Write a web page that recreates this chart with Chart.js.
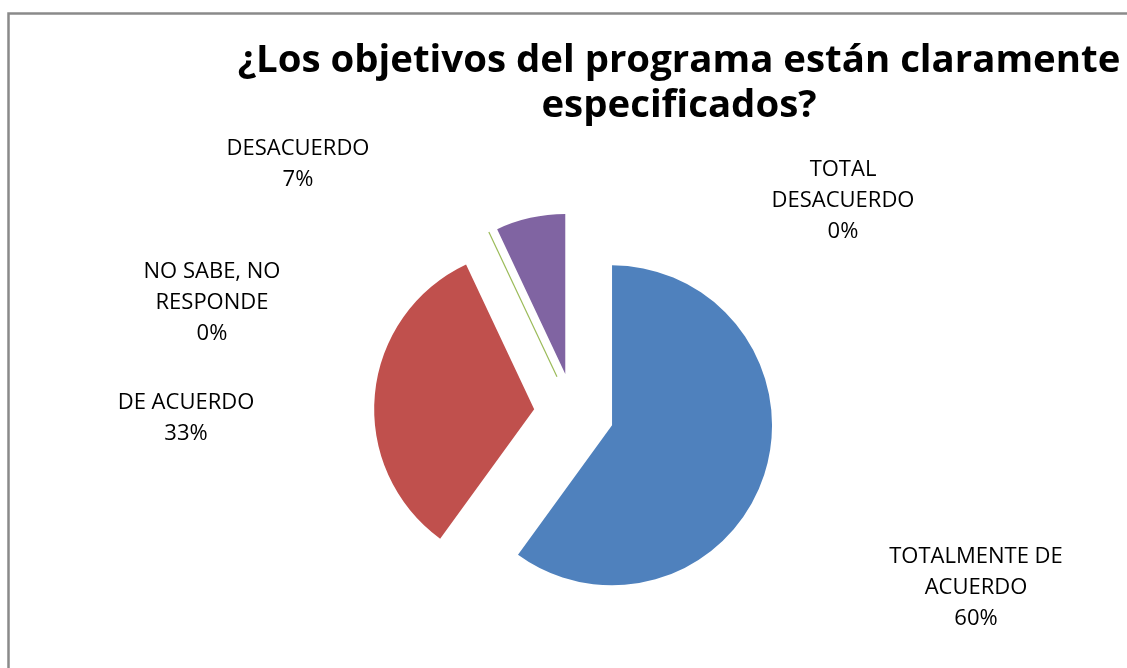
<!DOCTYPE html>
<html>
<head>
<meta charset="utf-8">
<script src="https://cdn.jsdelivr.net/npm/chart.js@4"></script>
<style>
  html, body { margin: 0; padding: 0; background: #ffffff; }
  #wrap { width: 1127px; height: 668px; position: relative; }
</style>
</head>
<body>
<div id="wrap"><canvas id="c" width="1127" height="668"></canvas></div>
<script>
// ---- data ----
const categories = ['TOTALMENTE DE ACUERDO', 'DE ACUERDO', 'NO SABE, NO RESPONDE', 'DESACUERDO', 'TOTAL DESACUERDO'];
const labelLines = [['TOTALMENTE DE', 'ACUERDO'], ['DE ACUERDO'], ['NO SABE, NO', 'RESPONDE'], ['DESACUERDO'], ['TOTAL', 'DESACUERDO']];
const percents = [60, 33, 0, 7, 0];
const sliceColors = ['#4F81BD', '#C0504D', '#9BBB59', '#8064A2', '#4BACC6'];
const titleLines = ['¿Los objetivos del programa están claramente', 'especificados?'];

// ---- layout / style (not data) ----
const EXPLODE = 40;          // px each slice is pulled out from the centre
const RADIUS = 160;
const labelPos = [           // centre x, baseline of first line
  { x: 976, y: 563 },
  { x: 186, y: 409 },
  { x: 212, y: 278 },
  { x: 298, y: 155 },
  { x: 843, y: 176 }
];
const LINE_H = 31;
const FONT = '"Open Sans", "DejaVu Sans", sans-serif';

function fitSize(ctx, weight, text, target) {
  ctx.font = weight + ' 100px ' + FONT;
  return 100 * target / ctx.measureText(text).width;
}

const framePlugin = {
  id: 'frame',
  beforeDraw(chart) {
    const ctx = chart.ctx;
    ctx.save();
    ctx.fillStyle = '#ffffff';
    ctx.fillRect(0, 0, chart.width, chart.height);
    ctx.strokeStyle = '#8a8a8a';
    ctx.lineWidth = 2.5;
    ctx.strokeRect(8.5, 13.5, 1300, 900);
    ctx.restore();
  }
};

// Explode every slice (Excel style): move each arc's centre outward along its mid-angle.
const explodePlugin = {
  id: 'explode',
  beforeDatasetsDraw(chart) {
    const ca = chart.chartArea;
    const cx = (ca.left + ca.right) / 2, cy = (ca.top + ca.bottom) / 2;
    chart.getDatasetMeta(0).data.forEach(arc => {
      const mid = (arc.startAngle + arc.endAngle) / 2;
      arc.x = cx + Math.cos(mid) * EXPLODE;
      arc.y = cy + Math.sin(mid) * EXPLODE;
    });
  }
};

// A 0 % slice is drawn by Excel as a hairline in its colour.
const zeroLinePlugin = {
  id: 'zeroLine',
  afterDatasetsDraw(chart) {
    const ctx = chart.ctx;
    const meta = chart.getDatasetMeta(0);
    meta.data.forEach((arc, i) => {
      if (percents[i] !== 0 || i === percents.length - 1) return;
      const a = arc.startAngle;
      ctx.save();
      ctx.strokeStyle = sliceColors[i];
      ctx.lineWidth = 1.2;
      ctx.beginPath();
      ctx.moveTo(arc.x, arc.y);
      ctx.lineTo(arc.x + Math.cos(a) * arc.outerRadius, arc.y + Math.sin(a) * arc.outerRadius);
      ctx.stroke();
      ctx.restore();
    });
  }
};

const textPlugin = {
  id: 'texts',
  afterDraw(chart) {
    const ctx = chart.ctx;
    ctx.save();
    ctx.fillStyle = '#000000';
    ctx.textAlign = 'center';
    ctx.textBaseline = 'alphabetic';
    // title
    const ts = fitSize(ctx, 'bold', titleLines[0], 883);
    ctx.font = 'bold ' + ts.toFixed(2) + 'px ' + FONT;
    ctx.fillText(titleLines[0], 679, 72);
    ctx.fillText(titleLines[1], 679, 117);
    // labels
    const ls = fitSize(ctx, 'normal', 'DESACUERDO', 143);
    ctx.font = ls.toFixed(2) + 'px ' + FONT;
    categories.forEach((c, i) => {
      const lines = labelLines[i].concat([percents[i] + '%']);
      const p = labelPos[i];
      lines.forEach((t, k) => ctx.fillText(t, p.x, p.y + k * LINE_H));
    });
    ctx.restore();
  }
};

new Chart(document.getElementById('c'), {
  type: 'pie',
  data: {
    labels: categories,
    datasets: [{
      data: percents,
      backgroundColor: sliceColors,
      borderWidth: 0
    }]
  },
  options: {
    responsive: false,
    animation: false,
    events: [],
    radius: RADIUS,
    layout: { padding: { left: 21, right: 0, top: 158, bottom: 0 } },
    plugins: {
      legend: { display: false },
      title: { display: false },
      tooltip: { enabled: false }
    }
  },
  plugins: [framePlugin, explodePlugin, zeroLinePlugin, textPlugin]
});
</script>
</body>
</html>
